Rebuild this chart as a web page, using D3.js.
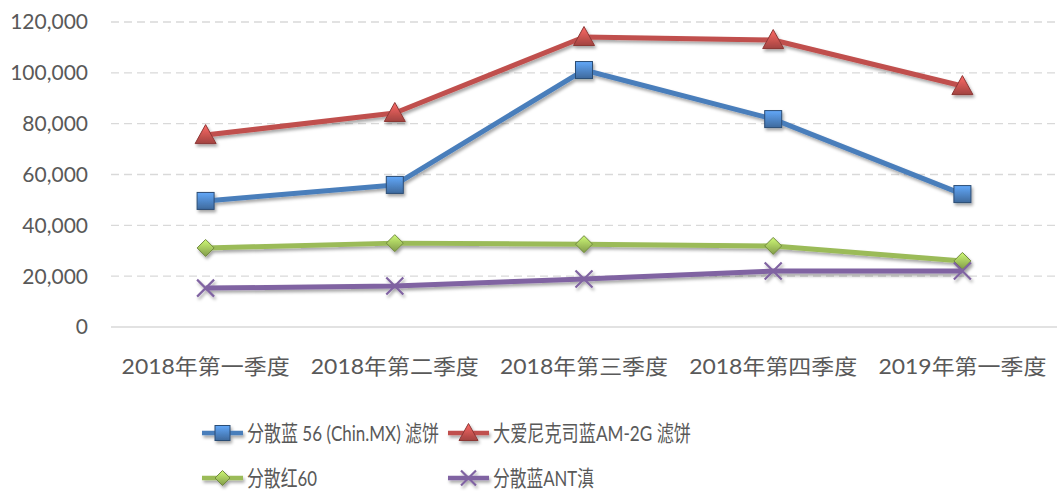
<!DOCTYPE html>
<html>
<head>
<meta charset="utf-8">
<script src="https://cdn.jsdelivr.net/npm/d3@7"></script>
<style>
  body { margin: 0; background: #fff; }
  text { font-family: Lato, "Noto Sans CJK SC", sans-serif; fill: #595959; }
</style>
</head>
<body>
<div id="container"></div>
<script>
// Data
let categories = ["2018年第一季度", "2018年第二季度", "2018年第三季度", "2018年第四季度", "2019年第一季度"];
let seriesNames = ["分散蓝 56 (Chin.MX)  滤饼", "大爱尼克司蓝AM-2G 滤饼", "分散红60", "分散蓝ANT滇"];
let blue56 = [49600, 55900, 101100, 81800, 52300];
let redAM2G = [75500, 84200, 114100, 112900, 94800];
let red60 = [31100, 33000, 32600, 31900, 26000];
let blueANT = [15300, 16100, 18900, 22000, 22000];
let yTicks = [0, 20000, 40000, 60000, 80000, 100000, 120000];

let seriesValues = [blue56, redAM2G, red60, blueANT];
let colors = ["#4a7ebb", "#c0504d", "#9bbb59", "#8064a2"];
let markerKinds = ["square", "triangle", "diamond", "cross"];

let width = 1057, height = 491;
let margin = { top: 22, right: 0, bottom: 164, left: 111 };

let svg = d3.select("#container").append("svg")
  .attr("width", width)
  .attr("height", height);

let defs = svg.append("defs");
let shadow = defs.append("filter").attr("id", "shadow")
  .attr("x", "-20%").attr("y", "-20%").attr("width", "140%").attr("height", "160%");
shadow.append("feDropShadow")
  .attr("dx", 1.5).attr("dy", 2.5).attr("stdDeviation", 1.6)
  .attr("flood-color", "#000").attr("flood-opacity", 0.35);

// bevel gradients for markers
colors.forEach((c, i) => {
  let g = defs.append("linearGradient").attr("id", "grad" + i)
    .attr("x1", 0).attr("y1", 0).attr("x2", 0).attr("y2", 1);
  g.append("stop").attr("offset", "0%").attr("stop-color", d3.color(c).brighter(0.8));
  g.append("stop").attr("offset", "100%").attr("stop-color", d3.color(c).darker(0.5));
});

let x = d3.scaleBand()
  .domain(categories)
  .range([margin.left, width - margin.right]);

let y = d3.scaleLinear()
  .domain([0, 120000])
  .range([height - margin.bottom, margin.top]);

// Grid lines
svg.append("g").selectAll("line")
  .data(yTicks.filter((d) => d > 0))
  .enter().append("line")
  .attr("x1", margin.left).attr("x2", width - margin.right)
  .attr("y1", (d) => y(d)).attr("y2", (d) => y(d))
  .style("stroke", "#d9d9d9")
  .style("stroke-width", 1.3)
  .style("stroke-dasharray", "8,5");

// Baseline
svg.append("line")
  .attr("x1", margin.left).attr("x2", width - margin.right)
  .attr("y1", y(0)).attr("y2", y(0))
  .style("stroke", "#d9d9d9")
  .style("stroke-width", 1.5);

// Y axis labels
let fmt = d3.format(",");
svg.append("g").selectAll("text")
  .data(yTicks)
  .enter().append("text")
  .attr("x", 88)
  .attr("y", (d) => y(d))
  .attr("dy", "0.35em")
  .attr("text-anchor", "end")
  .style("font-size", "21px")
  .text((d) => fmt(d));

// X axis labels
svg.append("g").selectAll("text")
  .data(categories)
  .enter().append("text")
  .attr("x", (d) => x(d) + x.bandwidth() / 2)
  .attr("y", 367)
  .attr("dy", "0.35em")
  .attr("text-anchor", "middle")
  .attr("textLength", 168)
  .attr("lengthAdjust", "spacingAndGlyphs")
  .style("font-size", "21px")
  .text((d) => d);

function drawMarker(sel, kind, i, size) {
  let h = size / 2;
  if (kind === "square") {
    sel.append("rect").attr("x", -h).attr("y", -h).attr("width", size).attr("height", size)
      .style("fill", "url(#grad" + i + ")").style("stroke", "#2c4d75").style("stroke-width", 1);
  } else if (kind === "triangle") {
    sel.append("path").attr("d", `M0,${-h - 2}L${h + 2},${h}L${-h - 2},${h}Z`)
      .style("fill", "url(#grad" + i + ")").style("stroke", "#8c3836").style("stroke-width", 1);
  } else if (kind === "diamond") {
    sel.append("path").attr("d", `M0,${-h}L${h},0L0,${h}L${-h},0Z`)
      .style("fill", "url(#grad" + i + ")").style("stroke", "#71893f").style("stroke-width", 1);
  } else {
    sel.append("path").attr("d", `M${-h},${-h}L${h},${h}M${-h},${h}L${h},${-h}`)
      .style("stroke", colors[i]).style("stroke-width", 2.2).style("fill", "none");
  }
}

let line = d3.line()
  .x((d, j) => x(categories[j]) + x.bandwidth() / 2)
  .y((d) => y(d));

// Series lines and markers
seriesValues.forEach((vals, i) => {
  let g = svg.append("g").attr("filter", "url(#shadow)");
  g.append("path")
    .datum(vals)
    .attr("d", line)
    .style("fill", "none")
    .style("stroke", colors[i])
    .style("stroke-width", 5)
    .style("stroke-linejoin", "round");
  vals.forEach((v, j) => {
    let m = g.append("g")
      .attr("transform", `translate(${x(categories[j]) + x.bandwidth() / 2},${y(v)})`);
    drawMarker(m, markerKinds[i], i, 17);
  });
});

// Legend
let legendPos = [[202, 433], [448, 433], [202, 478], [448, 478]];
let legendWidths = [192, 198, 70, 101];
seriesNames.forEach((name, i) => {
  let [lx, ly] = legendPos[i];
  let g = svg.append("g").attr("transform", `translate(${lx},${ly})`);
  let lg = g.append("g").attr("filter", "url(#shadow)");
  lg.append("line").attr("x1", 0).attr("x2", 41).attr("y1", 0).attr("y2", 0)
    .style("stroke", colors[i]).style("stroke-width", 4.5);
  let m = lg.append("g").attr("transform", "translate(20.5,0)");
  drawMarker(m, markerKinds[i], i, 15);
  g.append("text")
    .attr("x", 45)
    .attr("y", 0)
    .attr("dy", "0.35em")
    .attr("textLength", legendWidths[i])
    .attr("lengthAdjust", "spacingAndGlyphs")
    .style("font-size", "22px")
    .text(name);
});
</script>
</body>
</html>
